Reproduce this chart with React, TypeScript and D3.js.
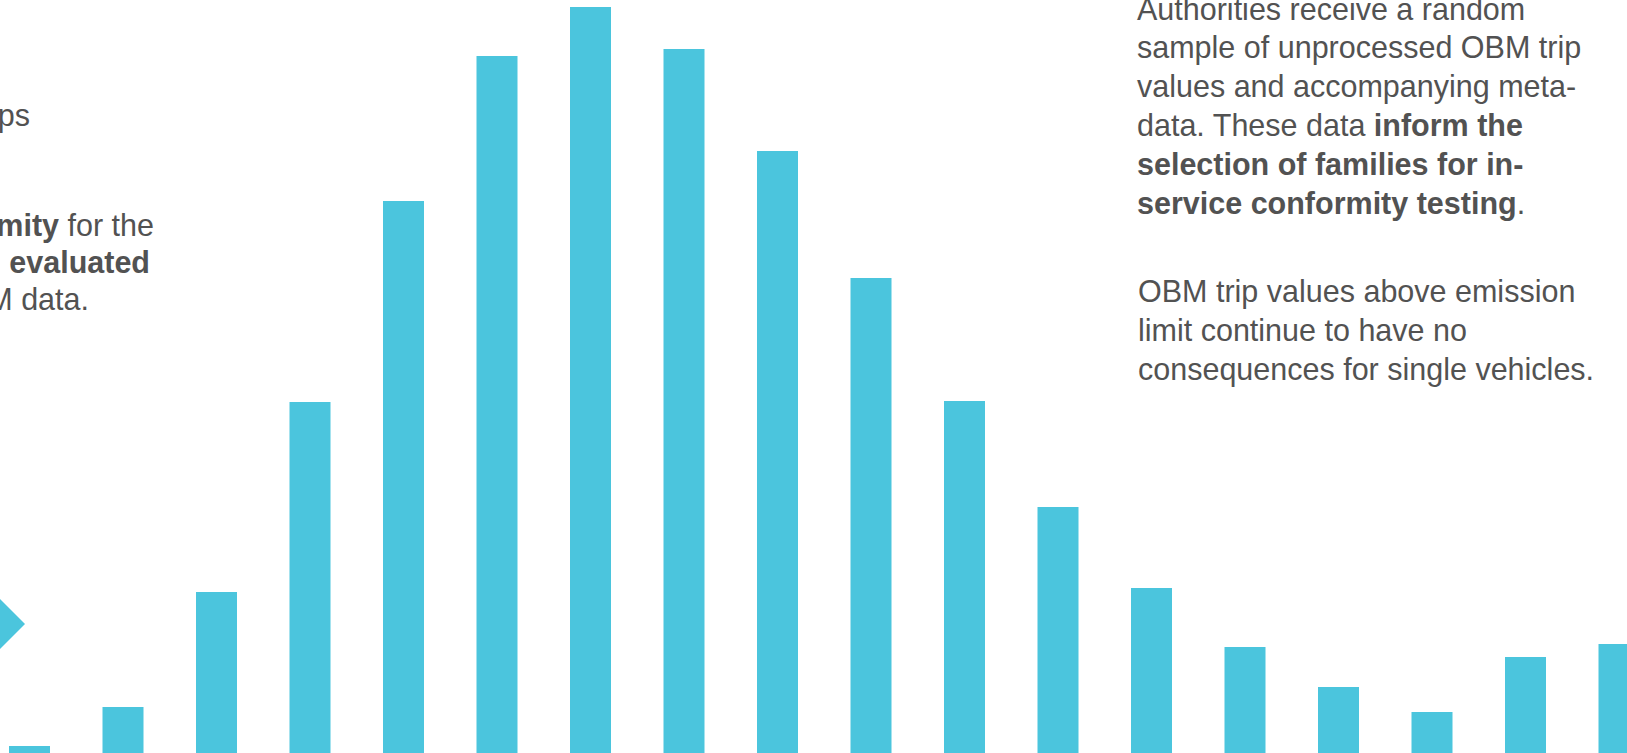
import React from "react";
import * as d3 from "d3";

const W = 1627;
const H = 753;

// Histogram bins (OBM trip value classes) and their relative frequencies
const categories: string[] = [
  "b01", "b02", "b03", "b04", "b05", "b06", "b07", "b08", "b09",
  "b10", "b11", "b12", "b13", "b14", "b15", "b16", "b17", "b18",
];
const values: number[] = [
  7, 46, 161, 351, 552, 697, 746, 704, 602, 475, 352, 246, 165, 106, 66, 41, 96, 109,
];

const rightPara1: { t: string; b: boolean }[][] = [
  [{ t: "Authorities receive a random", b: false }],
  [{ t: "sample of unprocessed OBM trip", b: false }],
  [{ t: "values and accompanying meta-", b: false }],
  [{ t: "data. These data ", b: false }, { t: "inform the", b: true }],
  [{ t: "selection of families for in-", b: true }],
  [{ t: "service conformity testing", b: true }, { t: ".", b: false }],
];
const rightPara2: string[] = [
  "OBM trip values above emission",
  "limit continue to have no",
  "consequences for single vehicles.",
];
const leftLines: { parts: { t: string; b: boolean }[]; end: number; y: number }[] = [
  { parts: [{ t: "trips", b: false }], end: 30, y: 126 },
  { parts: [{ t: "conformity", b: true }, { t: " for the", b: false }], end: 154, y: 236 },
  { parts: [{ t: "are ", b: false }, { t: "evaluated", b: true }], end: 150, y: 273 },
  { parts: [{ t: "OBM data.", b: false }], end: 89, y: 310 },
];

const BAR = "#4bc5dd";
const TXT = "#525252";
const FONT = "'Liberation Sans', Arial, Helvetica, sans-serif";
const FS = 30.5;

export default function App() {
  const x = d3
    .scaleBand<string>()
    .domain(categories)
    .range([9, 9 + 93.5 * (categories.length - 0.5615)])
    .paddingInner(0.5615)
    .paddingOuter(0);
  const y = d3.scaleLinear().domain([0, 746]).range([H, 7]);

  const arrow = d3.line()([
    [0, 599],
    [25, 624],
    [0, 649],
  ]) + "Z";

  const lh = 38.8;

  return (
    <svg
      width={W}
      height={H}
      style={{ position: "absolute", left: 0, top: 0, background: "#fff" }}
      fontFamily={FONT}
    >
      <rect x={0} y={0} width={W} height={H} fill="#fff" />
      {categories.map((c, i) => (
        <rect
          key={c}
          x={x(c)}
          y={y(values[i])}
          width={x.bandwidth()}
          height={H - y(values[i])}
          fill={BAR}
        />
      ))}
      <path d={arrow} fill={BAR} />
      <g fill={TXT} fontSize={FS}>
        {rightPara1.map((line, i) => (
          <text key={"r1" + i} x={1137} y={19.5 + i * lh}>
            {line.map((p, j) => (
              <tspan key={j} fontWeight={p.b ? "bold" : "normal"}>
                {p.t}
              </tspan>
            ))}
          </text>
        ))}
        {rightPara2.map((t, i) => (
          <text key={"r2" + i} x={1138} y={302 + i * lh}>
            {t}
          </text>
        ))}
        {leftLines.map((l, i) => (
          <text key={"l" + i} x={l.end} y={l.y} textAnchor="end">
            {l.parts.map((p, j) => (
              <tspan key={j} fontWeight={p.b ? "bold" : "normal"}>
                {p.t}
              </tspan>
            ))}
          </text>
        ))}
      </g>
    </svg>
  );
}
